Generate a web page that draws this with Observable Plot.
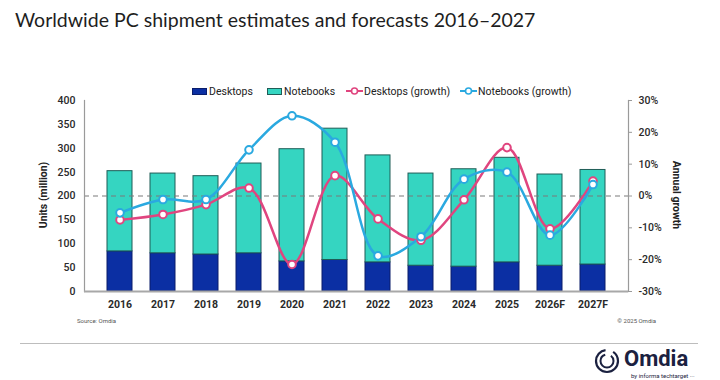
<!DOCTYPE html>
<html><head><meta charset="utf-8">
<script src="https://cdn.jsdelivr.net/npm/d3@7"></script>
<script src="https://cdn.jsdelivr.net/npm/@observablehq/plot@0.6"></script>
<style>
body{margin:0;background:#fff;font-family:Roboto,"Liberation Sans",Arial,sans-serif;}
#wrap{position:relative;width:720px;height:380px;overflow:hidden;background:#fff;}
#chart{position:absolute;left:0;top:0;}
.abs{position:absolute;white-space:nowrap;}
#title{left:15px;top:8px;font-family:Lato,"Open Sans",sans-serif;font-size:19.5px;color:#1e1e1e;}
.leg{position:absolute;top:84px;font-size:10.5px;color:#222;display:flex;align-items:center;height:14px;}
.sw{display:inline-block;width:15px;height:7px;margin-right:2px;box-sizing:border-box;}
.ylab{font-size:10.5px;font-weight:700;color:#222;}
#src,#copy{font-size:6px;color:#555;top:317px;}
#sep{position:absolute;left:20px;top:343px;width:678px;height:0;border-top:1.5px solid #bdbdbd;}
#logo{position:absolute;left:594px;top:346px;}
</style></head><body>
<div id="wrap">
<div id="chart"></div>
<div id="title" class="abs">Worldwide PC shipment estimates and forecasts 2016–2027</div>
<div id="legend"></div>
<div class="abs ylab" style="left:43px;top:195px;transform:translate(-50%,-50%) rotate(-90deg);">Units (million)</div>
<div class="abs ylab" style="left:676px;top:195px;transform:translate(-50%,-50%) rotate(90deg);">Annual growth</div>
<div id="src" class="abs" style="left:77px;">Source: Omdia</div>
<div id="copy" class="abs" style="right:64px;">© 2025 Omdia</div>
<div id="sep"></div>
<div id="logo">
<svg width="110" height="34" viewBox="0 0 110 34">
<circle cx="13" cy="15" r="11" fill="none" stroke="#1b2140" stroke-width="2.2" stroke-dasharray="50 8"/>
<circle cx="13" cy="15" r="6.5" fill="none" stroke="#1b2140" stroke-width="2" stroke-dasharray="28 6"/>
<text x="30" y="20" font-family="Roboto, sans-serif" font-weight="700" font-size="22" fill="#1b2140">Omdia</text>
<text x="37" y="32" font-family="Roboto, sans-serif" font-size="6" fill="#1b2140">by informa techtarget ···</text>
</svg>
</div>
</div>
<script>
const years = ["2016","2017","2018","2019","2020","2021","2022","2023","2024","2025","2026F","2027F"];
const desktops = [84, 80, 77.5, 80, 63, 66, 61, 54, 52, 61, 54, 56.5];
const notebooks = [168, 167, 164, 188, 235, 275, 224, 193, 204, 219, 191, 198];
const desktopGrowth = [-7.5, -5.8, -2.7, 2.5, -21.5, 6.4, -7.2, -13.9, -1.2, 15.2, -10.3, 4.7];
const notebookGrowth = [-5.3, -1.1, -1.1, 14.5, 25.2, 16.9, -18.8, -12.8, 5.3, 7.5, -12.3, 3.6];
const unitTicks = [0, 50, 100, 150, 200, 250, 300, 350, 400];
const growthTicks = [-30, -20, -10, 0, 10, 20, 30];

const colors = {desk: "#0b2fa3", deskStroke: "#0a1d6b", note: "#35d5c1", noteStroke: "#1f5d57", dg: "#e0457f", ng: "#2aa9e0"};

// growth (%) mapped onto the units scale: -30% -> 0, 30% -> 400
const toUnits = p => 200 + p * 200 / 30;
const fromUnits = u => (u - 200) * 30 / 200;

const rows = years.map((year, i) => ({
  year,
  desk: desktops[i],
  total: desktops[i] + notebooks[i],
  dg: toUnits(desktopGrowth[i]),
  ng: toUnits(notebookGrowth[i])
}));

const chart = Plot.plot({
  width: 720, height: 380,
  marginTop: 100, marginBottom: 89, marginLeft: 84, marginRight: 92,
  x: {type: "band", domain: years, padding: 0.41, label: null},
  y: {domain: [0, 400], label: null},
  style: {fontFamily: "Roboto, 'Liberation Sans', Arial, sans-serif", fontSize: "10.5px", color: "#2a2a2a", background: "transparent"},
  marks: [
    Plot.barY(rows, {x: "year", y1: 0, y2: "desk", fill: colors.desk, stroke: colors.deskStroke, strokeWidth: 1}),
    Plot.barY(rows, {x: "year", y1: "desk", y2: "total", fill: colors.note, stroke: colors.noteStroke, strokeWidth: 1}),
    Plot.ruleY([200], {stroke: "#7a7a7a", strokeWidth: 1.2, strokeDasharray: "5,4"}),
    Plot.frame({anchor: "left", stroke: "#9a9a9a", strokeWidth: 1.2}),
    Plot.frame({anchor: "right", stroke: "#9a9a9a", strokeWidth: 1.2}),
    Plot.ruleY([0], {stroke: "#a8a8a8", strokeWidth: 2}),
    Plot.line(rows, {x: "year", y: "dg", curve: "catmull-rom", stroke: colors.dg, strokeWidth: 2.5}),
    Plot.line(rows, {x: "year", y: "ng", curve: "catmull-rom", stroke: colors.ng, strokeWidth: 2.5}),
    Plot.dot(rows, {x: "year", y: "dg", r: 3.8, fill: "#fff", stroke: colors.dg, strokeWidth: 2}),
    Plot.dot(rows, {x: "year", y: "ng", r: 3.8, fill: "#fff", stroke: colors.ng, strokeWidth: 2}),
    Plot.axisY({anchor: "left", ticks: unitTicks, tickSize: 0, tickPadding: 9, label: null, fontWeight: 500}),
    Plot.axisY({anchor: "right", ticks: growthTicks.map(toUnits), tickFormat: d => `${Math.round(fromUnits(d))}%`, tickSize: 3, tickPadding: 7, label: null, stroke: "#9a9a9a", fontWeight: 500}),
    Plot.axisX({tickSize: 0, tickPadding: 9, label: null, fontWeight: 700})
  ]
});
document.getElementById("chart").append(chart);

// legend
const legendItems = [
  {label: "Desktops", kind: "rect", fill: colors.desk, stroke: colors.deskStroke, left: 192},
  {label: "Notebooks", kind: "rect", fill: colors.note, stroke: colors.noteStroke, left: 267},
  {label: "Desktops (growth)", kind: "line", color: colors.dg, left: 346},
  {label: "Notebooks (growth)", kind: "line", color: colors.ng, left: 460}
];
const legend = document.getElementById("legend");
for (const it of legendItems) {
  const d = document.createElement("div");
  d.className = "leg";
  d.style.left = it.left + "px";
  if (it.kind === "rect") {
    d.innerHTML = `<span class="sw" style="background:${it.fill};border:1px solid ${it.stroke}"></span>${it.label}`;
  } else {
    d.innerHTML = `<svg width="17" height="10" style="margin-right:1px"><line x1="0" y1="5" x2="17" y2="5" stroke="${it.color}" stroke-width="2"/><circle cx="8.5" cy="5" r="3" fill="#fff" stroke="${it.color}" stroke-width="1.6"/></svg>${it.label}`;
  }
  legend.append(d);
}
</script>
</body></html>
